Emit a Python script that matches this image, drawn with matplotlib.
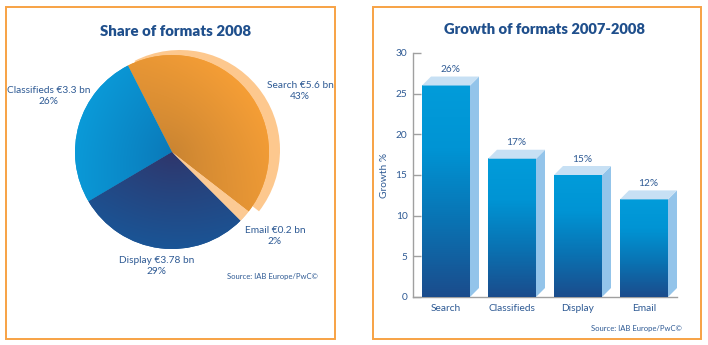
import numpy as np
import matplotlib
matplotlib.use("Agg")
import matplotlib.pyplot as plt
from matplotlib.patches import Rectangle, Wedge, Polygon
from matplotlib.colors import LinearSegmentedColormap, to_rgb

# ---- data -------------------------------------------------------------
formats = ["Search", "Classifieds", "Display", "Email"]
share_bn = [5.6, 3.3, 3.78, 0.2]
share_pct = [43, 26, 29, 2]
growth_pct = [26, 17, 15, 12]
growth_ticks = [0, 5, 10, 15, 20, 25, 30]
pie_title = "Share of formats 2008"
bar_title = "Growth of formats 2007-2008"
source_note = "Source: IAB Europe/PwC©"

plt.rcParams["font.family"] = ["Lato", "DejaVu Sans"]

W, H = 708, 345
fig = plt.figure(figsize=(W / 100, H / 100), dpi=100)
fig.patch.set_facecolor("white")

TITLE_C = "#1f4f8c"
TEXT_C = "#2e5a94"
BORDER_C = "#f7a244"
FS = 7.3

# ---- canvas axes in pixel units (y up) --------------------------------
cv = fig.add_axes([0, 0, 1, 1])
cv.set_xlim(0, W)
cv.set_ylim(0, H)
cv.axis("off")


def py(y):
    return H - y


# panel frames
for x0, x1 in [(6, 335), (373, 701)]:
    cv.add_patch(Rectangle((x0, py(339)), x1 - x0, 339 - 7, fill=False,
                           edgecolor=BORDER_C, lw=1.4, zorder=1))

# ---- pie --------------------------------------------------------------
cx, cy, R = 172, py(152), 97
fracs = np.array(share_pct, dtype=float) / sum(share_pct)
start = -37.8
angles = [start]
for f in fracs:
    angles.append(angles[-1] + 360 * f)

inner = {"Search": "#c98432", "Classifieds": "#0a78b8",
         "Display": "#30356a", "Email": "#fcca94"}
outer = {"Search": "#f59e36", "Classifieds": "#0b9ad8",
         "Display": "#1a5596", "Email": "#fcca94"}

# lighter shadow behind the search slice
sh = Wedge((cx + 8, cy + 2), R + 3, angles[0], angles[1],
           facecolor="#fdc88e", edgecolor="none", zorder=2)
cv.add_patch(sh)

gx = np.linspace(cx - R, cx + R, 300)
gy = np.linspace(cy - R, cy + R, 300)
GX, GY = np.meshgrid(gx, gy)
dist = np.clip(np.hypot(GX - cx, GY - cy) / R, 0, 1)

for i, name in enumerate(formats):
    a0, a1 = angles[i], angles[i + 1]
    w = Wedge((cx, cy), R, a0, a1, facecolor=outer[name],
              edgecolor="none", zorder=3)
    cv.add_patch(w)
    c0 = np.array(to_rgb(inner[name]))
    c1 = np.array(to_rgb(outer[name]))
    mid = np.deg2rad((a0 + a1) / 2)
    proj = ((GX - cx) * np.cos(mid) + (GY - cy) * np.sin(mid)) / R
    t = np.clip(0.55 * dist ** 0.8 + 0.45 * np.clip(proj, 0, 1), 0, 1)
    img = c0[None, None, :] * (1 - t[..., None]) + c1[None, None, :] * t[..., None]
    im = cv.imshow(img, extent=[cx - R, cx + R, cy - R, cy + R],
                   origin="lower", zorder=4, interpolation="bilinear")
    im.set_clip_path(w)

cv.set_xlim(0, W)
cv.set_ylim(0, H)
cv.set_aspect("auto")

cv.text(176, py(31), pie_title, ha="center", va="center", fontsize=10.8,
        fontweight="heavy", color=TITLE_C)

lbl = dict(ha="center", va="center", fontsize=FS, color=TEXT_C,
           linespacing=1.25)
cv.text(300, py(91), f"{formats[0]} €{share_bn[0]} bn\n{share_pct[0]}%", **lbl)
cv.text(49, py(96), f"{formats[1]} €{share_bn[1]} bn\n{share_pct[1]}%", **lbl)
cv.text(157, py(266), f"{formats[2]} €{share_bn[2]} bn\n{share_pct[2]}%", **lbl)
cv.text(275, py(236), f"{formats[3]} €{share_bn[3]} bn\n{share_pct[3]}%", **lbl)
cv.text(272, py(277), source_note, ha="center", va="center",
        fontsize=5.5, color=TEXT_C)

# ---- bar chart --------------------------------------------------------
ax_l, ax_r, ax_b, ax_t = 413, 677, 297, 53
ax = fig.add_axes([ax_l / W, (H - ax_b) / H, (ax_r - ax_l) / W,
                   (ax_b - ax_t) / H])
ax.patch.set_alpha(0)

x = np.arange(len(formats))
px_x = (ax_r - ax_l) / 4.0
px_y = (ax_b - ax_t) / 30.0
bw = 48 / px_x
ddx = 9 / px_x
ddy = 9 / px_y

grad = LinearSegmentedColormap.from_list(
    "bar", [(0.0, "#1b4c8c"), (0.35, "#0a72b2"), (0.7, "#0094d4"),
            (1.0, "#029cda")])
gimg = np.linspace(0, 1, 256)[:, None]

for xi, h in zip(x, growth_pct):
    l, r = xi - bw / 2, xi + bw / 2
    ax.imshow(gimg, cmap=grad, extent=[l, r, 0, h], origin="lower",
              aspect="auto", zorder=3, interpolation="bilinear")
    ax.add_patch(Polygon([(r, 0), (r + ddx, ddy), (r + ddx, h + ddy), (r, h)],
                         closed=True, facecolor="#93c4ea", edgecolor="none",
                         zorder=3, clip_on=False))
    ax.add_patch(Polygon([(l, h), (l + ddx, h + ddy), (r + ddx, h + ddy), (r, h)],
                         closed=True, facecolor="#c7e0f4", edgecolor="none",
                         zorder=3, clip_on=False))
    ax.text(xi + ddx / 2, h + ddy + 0.85, f"{h}%", ha="center", va="center",
            fontsize=FS, color=TEXT_C)

ax.set_xlim(-0.5, 3.5)
ax.set_ylim(0, 30)
ax.set_yticks(growth_ticks)
ax.set_xticks(x)
ax.set_xticklabels(formats)
for s in ["top", "right"]:
    ax.spines[s].set_visible(False)
for s in ["left", "bottom"]:
    ax.spines[s].set_color("#a0a0a0")
    ax.spines[s].set_linewidth(1.0)
ax.tick_params(axis="y", direction="in", length=6, width=1, color="#a0a0a0",
               labelcolor=TEXT_C, labelsize=FS, pad=4)
ax.tick_params(axis="x", length=0, labelcolor=TEXT_C, labelsize=FS, pad=5)
ax.set_ylabel("Growth %", color=TEXT_C, fontsize=FS, labelpad=5)

cv.text(544, py(30), bar_title, ha="center", va="center", fontsize=10.6,
        fontweight="heavy", color=TITLE_C)
cv.text(636, py(328), source_note, ha="center", va="center",
        fontsize=5.5, color=TEXT_C)

fig.savefig("out.png", dpi=100, facecolor="white")
